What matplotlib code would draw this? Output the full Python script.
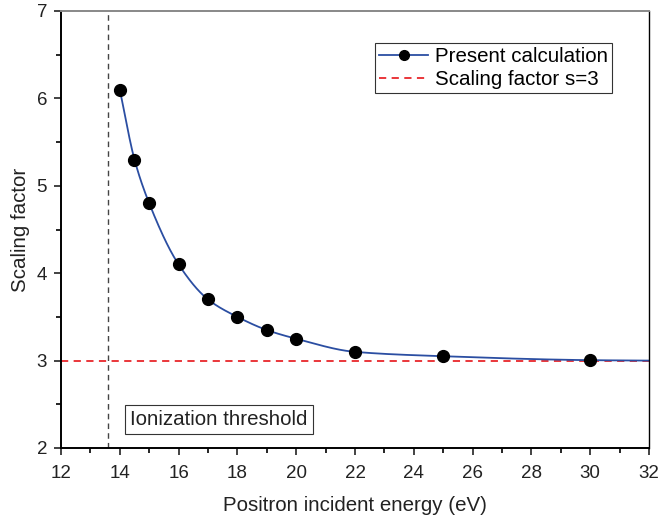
import numpy as np
import matplotlib
matplotlib.use("Agg")
import matplotlib.pyplot as plt
from matplotlib.ticker import MultipleLocator
from matplotlib.lines import Line2D

plt.rcParams['font.family'] = ['Liberation Sans', 'DejaVu Sans']

energy = [14, 14.5, 15, 16, 17, 18, 19, 20, 22, 25, 30]
scaling = [6.1, 5.3, 4.8, 4.1, 3.7, 3.5, 3.35, 3.25, 3.1, 3.05, 3.01]
curve_end_x = 32
curve_end_y = 3.0
threshold = 13.6
s_value = 3

def pchip(x, y, xs):
    x = np.asarray(x, float); y = np.asarray(y, float)
    h = np.diff(x); d = np.diff(y) / h
    n = len(x); m = np.zeros(n)
    for k in range(1, n - 1):
        if d[k - 1] * d[k] > 0:
            w1 = 2 * h[k] + h[k - 1]; w2 = h[k] + 2 * h[k - 1]
            m[k] = (w1 + w2) / (w1 / d[k - 1] + w2 / d[k])
    m[0] = d[0]; m[-1] = d[-1]
    idx = np.clip(np.searchsorted(x, xs) - 1, 0, n - 2)
    t = (xs - x[idx]) / h[idx]
    h00 = 2*t**3 - 3*t**2 + 1; h10 = t**3 - 2*t**2 + t
    h01 = -2*t**3 + 3*t**2; h11 = t**3 - t**2
    return h00*y[idx] + h10*h[idx]*m[idx] + h01*y[idx+1] + h11*h[idx]*m[idx+1]

cx = energy + [curve_end_x]
cy = scaling[:-1] + [3.005, curve_end_y]
xs = np.linspace(cx[0], cx[-1], 600)
ys = pchip(cx, cy, xs)

fig = plt.figure(figsize=(6.59, 5.17), dpi=100)
ax = fig.add_axes([61/659, 1 - 448/517, (649-61)/659, (448-11)/517])

ax.axhline(s_value, color='#e8262b', ls=(0, (4, 3)), lw=1.3, zorder=1)
ax.axvline(threshold, color='#444444', ls=(0, (4, 3)), lw=1.0, zorder=1)
ax.plot(xs, ys, color='#2b4ea2', lw=1.3, zorder=2)
ax.plot(energy, scaling, 'o', color='black', ms=8.5, zorder=3)

ax.set_xlim(12, 32)
ax.set_ylim(2, 7)
ax.xaxis.set_major_locator(MultipleLocator(2))
ax.xaxis.set_minor_locator(MultipleLocator(1))
ax.yaxis.set_major_locator(MultipleLocator(1))
ax.yaxis.set_minor_locator(MultipleLocator(0.5))
ax.tick_params(which='major', direction='out', length=5, width=1.2, labelsize=13.5, colors='#222222', pad=5)
ax.tick_params(axis='x', which='major', pad=7)
ax.tick_params(which='minor', direction='out', length=3.5, width=1.2)
ax.spines['left'].set_linewidth(1.4)
ax.spines['bottom'].set_linewidth(1.4)
ax.spines['top'].set_color('#888888')
ax.spines['top'].set_linewidth(1.4)
ax.spines['right'].set_linewidth(1.0)

ax.set_xlabel('Positron incident energy (eV)', fontsize=14.8, labelpad=10, color='#222222')
ax.set_ylabel('Scaling factor', fontsize=14.8, labelpad=5, color='#222222')

h1 = Line2D([], [], color='#2b4ea2', lw=1.3, marker='o', mfc='black', mec='black', ms=7)
h2 = Line2D([], [], color='#e8262b', lw=1.3, ls=(0, (4, 3)))
leg = ax.legend([h1, h2], ['Present calculation', 'Scaling factor s=3'],
                loc='upper left', bbox_to_anchor=((375-61)/588, 1 - (43-11)/437),
                fontsize=14.8, frameon=True, fancybox=False, edgecolor='black',
                handlelength=2.4, handletextpad=0.3, borderpad=0.2, labelspacing=0.2,
                borderaxespad=0)
leg.get_frame().set_linewidth(0.8)

ax.text(14.35, 2.26, 'Ionization threshold', fontsize=14.8, color='#222222',
        bbox=dict(boxstyle='square,pad=0.25', fc='white', ec='#333333', lw=0.8))

fig.savefig('out.png', dpi=100)
